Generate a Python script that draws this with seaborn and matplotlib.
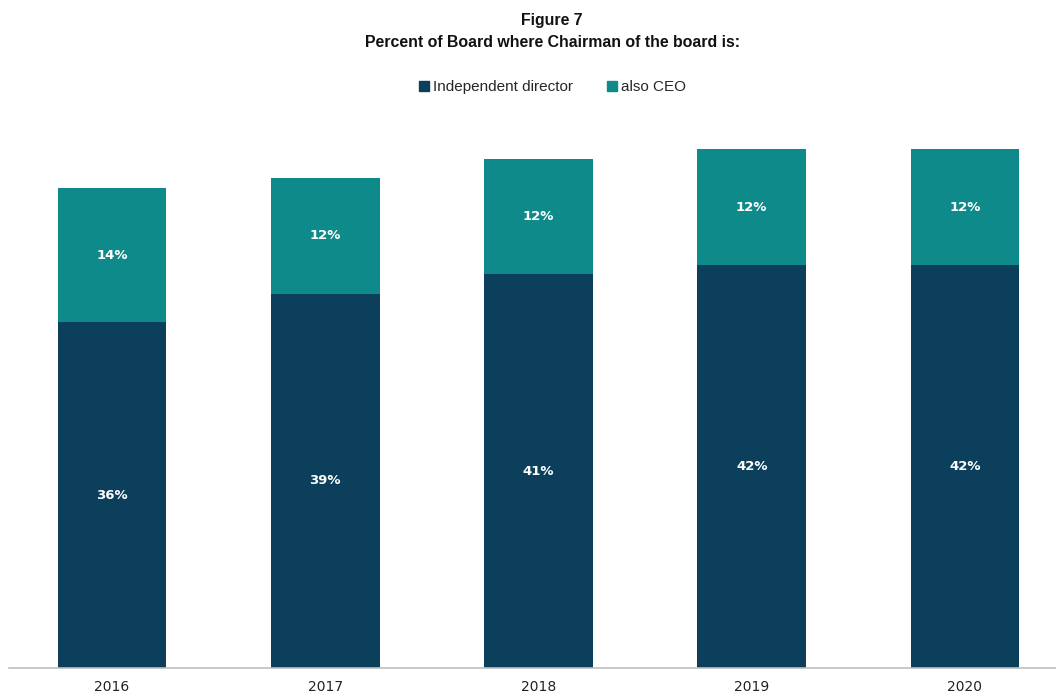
import matplotlib
matplotlib.use("Agg")
import matplotlib.pyplot as plt
import seaborn as sns
import pandas as pd
from matplotlib.lines import Line2D

# Data
years = ["2016", "2017", "2018", "2019", "2020"]
independent_director = [36, 39, 41, 42, 42]
also_ceo = [14, 12, 12, 12, 12]
series_names = ["Independent director", "also CEO"]

DARK = "#0B3F5C"
TEAL = "#0F8A8A"

sns.set_theme(style="white")
plt.rcParams["font.family"] = ["Liberation Sans", "DejaVu Sans"]

df = pd.DataFrame({"year": years,
                   "independent": independent_director,
                   "ceo": also_ceo})

fig = plt.figure(figsize=(10.56, 6.93), dpi=100)
ax = fig.add_axes([0.0085, 0.0361, 0.9915, 0.805])

sns.barplot(data=df, x="year", y="independent", color=DARK, width=0.51,
            saturation=1, ax=ax, linewidth=0)
sns.barplot(data=df, x="year", y="ceo", color=TEAL, width=0.51,
            saturation=1, ax=ax, linewidth=0, bottom=df["independent"])

# Value labels inside each segment
for i, (a, b) in enumerate(zip(independent_director, also_ceo)):
    ax.text(i, a / 2, f"{a}%", ha="center", va="center", color="white",
            fontsize=9.5, fontweight="bold", family="DejaVu Sans")
    ax.text(i, a + b / 2, f"{b}%", ha="center", va="center", color="white",
            fontsize=9.5, fontweight="bold", family="DejaVu Sans")

ax.set_xlim(-0.483, 4.427)
ax.set_ylim(0, 58.1)
ax.set_xlabel("")
ax.set_ylabel("")
ax.set_yticks([])
ax.tick_params(axis="x", length=0, pad=9, labelsize=10, colors="#222222")
for lbl in ax.get_xticklabels():
    lbl.set_family("DejaVu Sans")
for side in ["left", "right", "top"]:
    ax.spines[side].set_visible(False)
ax.spines["bottom"].set_color("#BFBFBF")
ax.spines["bottom"].set_linewidth(1.2)

fig.text(0.523, 0.970, "Figure 7", ha="center", va="center",
         fontsize=11.4, fontweight="bold", color="#111111")
fig.text(0.523, 0.938, "Percent of Board where Chairman of the board is:",
         ha="center", va="center", fontsize=11.4, fontweight="bold",
         color="#111111")

handles = [Line2D([], [], marker="s", linestyle="none", markersize=7,
                  markerfacecolor=c, markeredgecolor=c)
           for c in (DARK, TEAL)]
fig.legend(handles, series_names, loc="center", bbox_to_anchor=(0.522, 0.874),
           ncol=2, frameon=False, fontsize=11, handletextpad=0.1,
           columnspacing=2.0, handlelength=1.0)

fig.savefig("out.png", dpi=100)
